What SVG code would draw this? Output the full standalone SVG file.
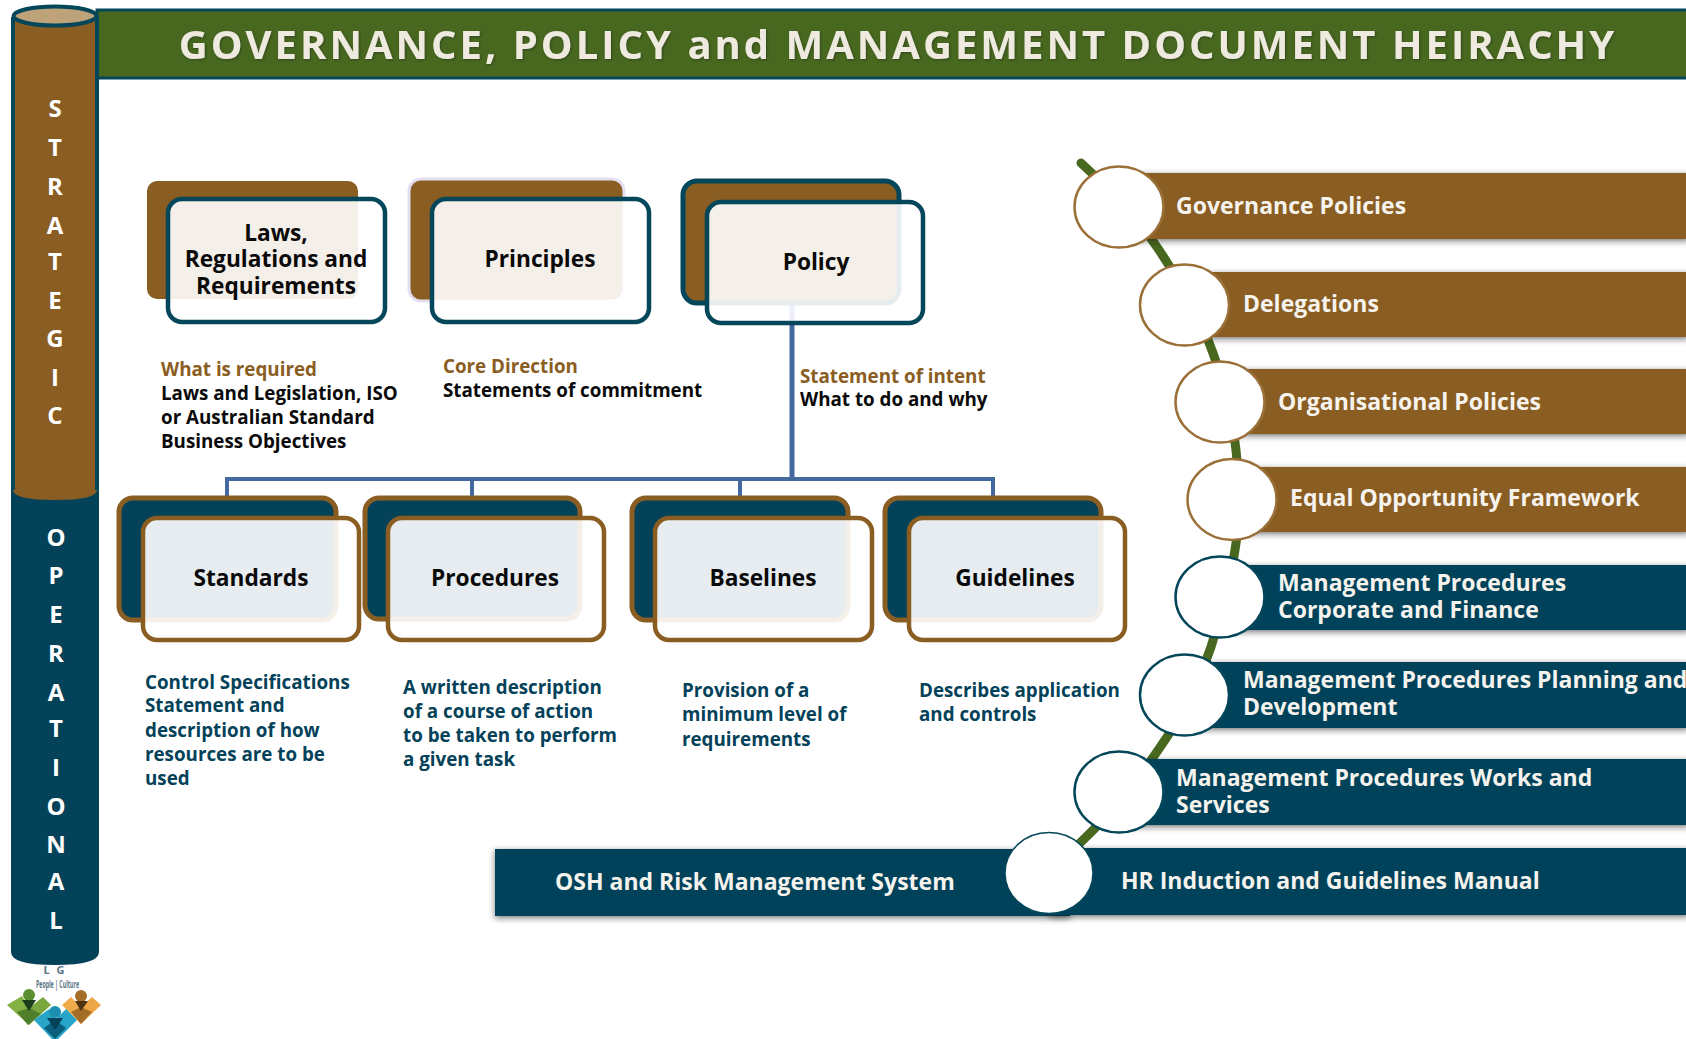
<svg xmlns="http://www.w3.org/2000/svg" width="1686" height="1039" viewBox="0 0 1686 1039">
<style>
text{font-family:"Open Sans","Liberation Sans",sans-serif;font-weight:700}
.back{stroke-width:5}
.bt{fill:#8a5d22;stroke:#04465a}
.bb{fill:#04425a;stroke:#8a5d22}
.front{fill:#fff;fill-opacity:.9;stroke-width:4.5}
.ft{stroke:#04465a}
.fb{stroke:#8a5d22}
.nl{font-size:22.7px;fill:#0a0a0a;text-anchor:middle}
.d{font-size:18.8px}
.k{fill:#0a0a0a}.br{fill:#8a5d22}.te{fill:#04425a}
.col{font-size:24px;fill:#fff;text-anchor:middle}
.band{filter:url(#sh)}
.bl{font-size:23px;fill:#f6f3ee}
.c{fill:#fff;stroke-width:2.5}
.conn{fill:none;stroke:#44699e;stroke-width:4}
</style>
<defs>
<filter id="sh" x="-5%" y="-20%" width="110%" height="150%"><feDropShadow dx="0" dy="2" stdDeviation="3" flood-color="#222" flood-opacity=".6"/></filter>
<filter id="ts" x="-5%" y="-20%" width="110%" height="150%"><feDropShadow dx="1" dy="1" stdDeviation="1" flood-color="#222" flood-opacity=".5"/></filter>
</defs>
<rect width="1686" height="1039" fill="#fff"/>

<g id="title">
<rect x="97" y="10" width="1593" height="68" fill="#47681e" stroke="#04465a" stroke-width="3"/>
<text x="898" y="59" font-size="40" text-anchor="middle" fill="#eeeadf" letter-spacing="3" filter="url(#ts)">GOVERNANCE, POLICY and MANAGEMENT DOCUMENT HEIRACHY</text>
</g>

<g id="pillar">
<path d="M11 952V490H99V952Q99 965 55 965Q11 965 11 952Z" fill="#04425a"/>
<path d="M13 490V17H97V490Q97 500 55 500Q13 500 13 490Z" fill="#8a5d22"/>
<path d="M13 17V490M97 17V490" stroke="#04465a" stroke-width="4" fill="none"/>
<ellipse cx="55" cy="16" rx="41.500" ry="9.500" fill="#bea27a" stroke="#04465a" stroke-width="4"/>
<text class="col" x="55" y="117">S</text><text class="col" x="55" y="156">T</text><text class="col" x="55" y="195">R</text><text class="col" x="55" y="234">A</text><text class="col" x="55" y="270">T</text><text class="col" x="55" y="309">E</text><text class="col" x="55" y="347">G</text><text class="col" x="55" y="386">I</text><text class="col" x="55" y="424">C</text>
<text class="col" x="56" y="546">O</text><text class="col" x="56" y="584">P</text><text class="col" x="56" y="623">E</text><text class="col" x="56" y="662">R</text><text class="col" x="56" y="701">A</text><text class="col" x="56" y="737">T</text><text class="col" x="56" y="776">I</text><text class="col" x="56" y="815">O</text><text class="col" x="56" y="853">N</text><text class="col" x="56" y="890">A</text><text class="col" x="56" y="929">L</text>
</g>

<g id="logo">
<text x="55" y="974" font-size="11" fill="#5b7486" text-anchor="middle" letter-spacing="2">L G</text>
<text x="36" y="988" font-size="10" fill="#5b7486" textLength="43" lengthAdjust="spacingAndGlyphs">People | Culture</text>
<path d="M7 1005L22 996L29 1008V1025Z" fill="#84b044"/><path d="M51 1005L43 997L29 1008V1025Z" fill="#7aa63e"/><path d="M17 1012L29 1008L41 1014L28 1025Z" fill="#4f7f2b"/><circle cx="29" cy="995" r="6" fill="#5c8f30"/><path d="M22 1000H36L29 1011Z" fill="#1d3d1c"/>
<path d="M62 1005L71 997L81 1007V1024Z" fill="#f0aa4c"/><path d="M101 1005L92 997L81 1007V1024Z" fill="#eda748"/><path d="M71 1012L81 1007L92 1012L81 1024Z" fill="#a46d28"/><circle cx="81" cy="996" r="6" fill="#a46d28"/><path d="M75 1001H88L81 1011Z" fill="#4d3412"/>
<path d="M34 1020L49 1009L55 1020V1039H52Z" fill="#27a4c8"/><path d="M77 1020L66 1009L55 1020V1039H58Z" fill="#27a4c8"/><path d="M44 1028L55 1020L66 1028L55 1039Z" fill="#0a5f7c"/><circle cx="55" cy="1012" r="6" fill="#1b90b0"/><path d="M47 1018H63L55 1030Z" fill="#04425a"/>
</g>

<g id="connectors">
<path class="conn" d="M227 496V479H993V496M472 496V479M740 496V479"/>
<path class="conn" d="M792 304V479" style="stroke-width:5"/>
<path d="M1081 163C1105 185 1130 210 1152 240C1175 272 1195 310 1208 340C1222 375 1232 415 1236 450C1240 490 1240 520 1235 550C1230 585 1222 610 1211 647C1200 680 1185 710 1167 737C1145 770 1120 805 1080 843" fill="none" stroke="#47681e" stroke-width="9" stroke-linecap="round"/>
</g>

<g id="laws">
<rect x="147" y="181" width="211" height="118" rx="10" fill="#8a5d22"/>
<rect class="front ft" x="168" y="199" width="217" height="123" rx="14"/>
<text class="nl" x="276" y="241">Laws,</text><text class="nl" x="276" y="267">Regulations and</text><text class="nl" x="276" y="294">Requirements</text>
</g>
<g id="principles">
<rect x="409" y="179" width="215" height="122" rx="12" fill="#8a5d22" stroke="#e4dff0" stroke-width="3"/>
<rect class="front ft" x="432" y="199" width="217" height="123" rx="14"/>
<text class="nl" x="540" y="267">Principles</text>
</g>
<g id="policy">
<rect class="back bt" x="683" y="181" width="216" height="122" rx="14"/>
<rect class="front ft" x="707" y="202" width="216" height="121" rx="14"/>
<text class="nl" x="816" y="270">Policy</text>
</g>

<g id="standards">
<rect class="back bb" x="119" y="498" width="217" height="122" rx="14"/>
<rect class="front fb" x="143" y="518" width="216" height="122" rx="14"/>
<text class="nl" x="251" y="586">Standards</text>
</g>
<g id="procedures">
<rect class="back bb" x="365" y="498" width="215" height="121" rx="14"/>
<rect class="front fb" x="388" y="518" width="216" height="122" rx="14"/>
<text class="nl" x="495" y="586">Procedures</text>
</g>
<g id="baselines">
<rect class="back bb" x="632" y="498" width="216" height="122" rx="14"/>
<rect class="front fb" x="655" y="518" width="217" height="122" rx="14"/>
<text class="nl" x="763" y="586">Baselines</text>
</g>
<g id="guidelines">
<rect class="back bb" x="885" y="498" width="216" height="122" rx="14"/>
<rect class="front fb" x="909" y="518" width="216" height="122" rx="14"/>
<text class="nl" x="1015" y="586">Guidelines</text>
</g>

<g id="desc-laws">
<text x="161" y="376" class="d br">What is required</text>
<text x="161" y="400" class="d k">Laws and Legislation, ISO</text>
<text x="161" y="424" class="d k">or Australian Standard</text>
<text x="161" y="448" class="d k">Business Objectives</text>
</g>
<g id="desc-principles">
<text x="443" y="373" class="d br">Core Direction</text>
<text x="443" y="397" class="d k">Statements of commitment</text>
</g>
<g id="desc-policy">
<text x="800" y="383" class="d br">Statement of intent</text>
<text x="800" y="406" class="d k">What to do and why</text>
</g>
<g id="desc-standards">
<text x="145" y="689" class="d te">Control Specifications</text>
<text x="145" y="712" class="d te">Statement and</text>
<text x="145" y="737" class="d te">description of how</text>
<text x="145" y="761" class="d te">resources are to be</text>
<text x="145" y="785" class="d te">used</text>
</g>
<g id="desc-procedures">
<text x="403" y="694" class="d te">A written description</text>
<text x="403" y="718" class="d te">of a course of action</text>
<text x="403" y="742" class="d te">to be taken to perform</text>
<text x="403" y="766" class="d te">a given task</text>
</g>
<g id="desc-baselines">
<text x="682" y="697" class="d te">Provision of a</text>
<text x="682" y="721" class="d te">minimum level of</text>
<text x="682" y="746" class="d te">requirements</text>
</g>
<g id="desc-guidelines">
<text x="919" y="697" class="d te">Describes application</text>
<text x="919" y="721" class="d te">and controls</text>
</g>

<g id="governance-policies">
<rect class="band" x="1119" y="173" width="570" height="66" fill="#8a5d22"/>
<ellipse class="c" cx="1119" cy="207" rx="44.500" ry="40.500" stroke="#9a7038"/>
<text class="bl" x="1176" y="214">Governance Policies</text>
</g>
<g id="delegations">
<rect class="band" x="1184" y="272" width="505" height="65" fill="#8a5d22"/>
<ellipse class="c" cx="1184.500" cy="305" rx="44.500" ry="40.500" stroke="#9a7038"/>
<text class="bl" x="1243" y="312">Delegations</text>
</g>
<g id="organisational-policies">
<rect class="band" x="1219" y="369" width="470" height="65" fill="#8a5d22"/>
<ellipse class="c" cx="1220" cy="402" rx="44.500" ry="40.500" stroke="#9a7038"/>
<text class="bl" x="1278" y="410">Organisational Policies</text>
</g>
<g id="equal-opportunity">
<rect class="band" x="1231" y="467" width="458" height="65" fill="#8a5d22"/>
<ellipse class="c" cx="1232" cy="499.500" rx="44.500" ry="40.500" stroke="#9a7038"/>
<text class="bl" x="1290" y="506">Equal Opportunity Framework</text>
</g>
<g id="mp-corporate">
<rect class="band" x="1219" y="565" width="470" height="65" fill="#04425a"/>
<ellipse class="c" cx="1220" cy="597" rx="44.500" ry="40.500" stroke="#04465a"/>
<text class="bl" x="1278" y="591">Management Procedures</text>
<text class="bl" x="1278" y="618">Corporate and Finance</text>
</g>
<g id="mp-planning">
<rect class="band" x="1184" y="662" width="505" height="66" fill="#04425a"/>
<ellipse class="c" cx="1184.500" cy="695" rx="44.500" ry="40.500" stroke="#04465a"/>
<text class="bl" x="1243" y="688">Management Procedures Planning and</text>
<text class="bl" x="1243" y="715">Development</text>
</g>
<g id="mp-works">
<rect class="band" x="1119" y="759" width="570" height="66" fill="#04425a"/>
<ellipse class="c" cx="1119" cy="792" rx="44.500" ry="40.500" stroke="#04465a"/>
<text class="bl" x="1176" y="786">Management Procedures Works and</text>
<text class="bl" x="1176" y="813">Services</text>
</g>
<g id="hr-osh">
<rect class="band" x="495" y="849" width="575" height="67" fill="#04425a"/>
<rect class="band" x="1049" y="848" width="640" height="67" fill="#04425a"/>
<ellipse cx="1049" cy="873" rx="44" ry="40.500" fill="#fff" stroke="#04465a" stroke-width="1.500"/>
<text class="bl" x="555" y="890">OSH and Risk Management System</text>
<text class="bl" x="1121" y="889">HR Induction and Guidelines Manual</text>
</g>
</svg>
